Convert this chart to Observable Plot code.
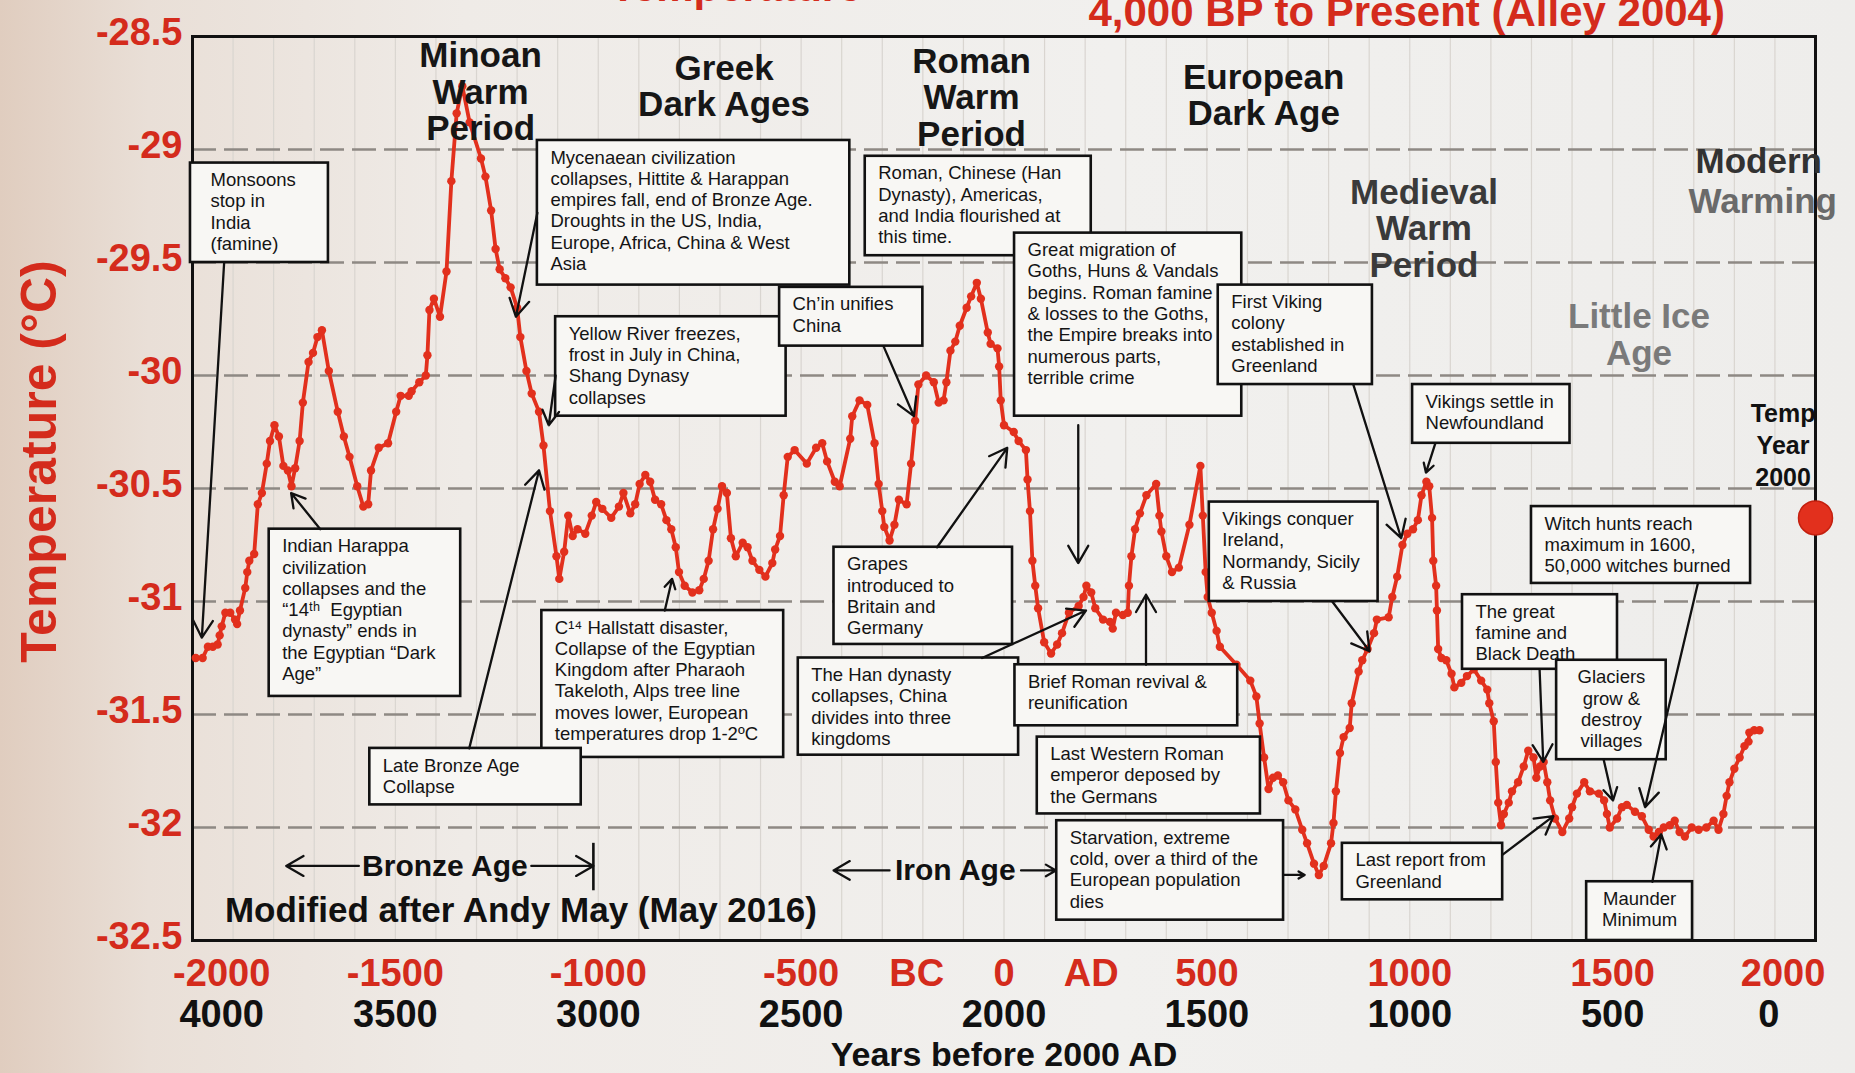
<!DOCTYPE html>
<html>
<head>
<meta charset="utf-8">
<script src="https://cdn.jsdelivr.net/npm/d3@7"></script>
<script src="https://cdn.jsdelivr.net/npm/@observablehq/plot@0.6"></script>
<style>
html,body{margin:0;padding:0;}
body{width:1855px;height:1073px;overflow:hidden;
background:linear-gradient(90deg,#e0cdbf 0%,#e9dfd7 8%,#efebe7 25%,#f1f0ee 60%,#eeedeb 100%);}
#chart svg{display:block;}
</style>
</head>
<body>
<div id="chart"></div>
<script>
// ---- data (GISP2 temperature, Alley 2004) ----
const years = [
-1992,-1975,-1962,-1950,-1938,-1933,-1928,-1919,-1907,-1895,-1890,-1883,-1870,-1865,-1860,-1848,-1839,-1829,-1817,-1809,-1798,-1787,-1776,-1765,-1756,-1747,-1736,-1728,-1714,-1703,-1692,-1681,-1664,-1642,-1627,-1613,-1594,-1579,-1567,-1560,-1541,-1518,-1498,-1487,-1467,
-1460,-1441,-1425,-1421,-1416,-1405,-1390,-1374,-1362,-1349,-1335,-1317,-1289,-1278,-1264,-1253,-1243,-1229,-1216,-1200,-1192,-1177,-1164,-1146,-1135,
-1119,-1103,-1096,-1084,-1074,-1063,-1051,-1032,-1016,-1005,-990,-968,-949,-938,-921,-909,-898,-884,-872,-860,-845,-832,-820,-809,-801,-787,-768,-751,-740,-728,-717,-706,-695,-683,-673,-661,-644,-632,-620,-603,-588,-571,-564,-552,-543,-533,
-516,-486,-463,-448,-436,-417,-405,-379,-374,-356,-337,-319,-309,-300,-295,-282,-270,-259,-240,-229,-219,-211,-192,-173,-161,-149,-142,-132,-120,-109,-92,-81,-67,-57,-40,-33,-16,-12,-8,0,24,36,54,58,64,70,
77,84,99,116,131,143,160,184,196,203,215,225,244,261,268,276,293,305,308,314,323,335,351,375,383,388,400,414,431,457,484,490,497,502,512,524,532,573,607,622,630,641,652,663,675,688,701,
718,735,747,764,776,788,806,812,818,828,837,852,857,874,883,896,912,919,948,957,969,982,994,1008,1020,1029,1041,1048,1055,1058,1065,1067,1070,1078,1090,1103,1110,1127,1141,1158,
1176,1191,1196,1207,1212,1218,1225,1232,1244,1252,1267,1281,1292,1305,1312,1321,1330,1339,1346,1358,1376,1393,1400,1412,1430,1444,1466,1479,1486,1493,1511,1523,1535,1555,1572,1589,1601,1614,1626,1641,1653,1665,1678,1695,1712,1731,1749,1761,1773,1781,1788,1800,1813,1825,1835,1837,1849,1862
];
const temps = [
-31.25,-31.25,-31.20,-31.20,-31.19,-31.15,-31.11,-31.05,-31.05,-31.08,-31.10,-31.04,-30.94,-30.87,-30.82,-30.79,-30.57,-30.52,-30.39,-30.29,-30.22,-30.27,-30.40,-30.42,-30.49,-30.41,-30.29,-30.12,-29.94,-29.90,-29.83,-29.80,-29.98,-30.16,-30.27,-30.36,-30.49,-30.58,-30.57,-30.42,-30.32,-30.30,-30.16,-30.09,-30.09,
-30.07,-30.03,-30.00,-29.91,-29.71,-29.66,-29.74,-29.54,-29.14,-28.84,-28.72,-28.88,-29.04,-29.12,-29.27,-29.44,-29.53,-29.57,-29.61,-29.70,-29.83,-29.98,-30.08,-30.16,-30.31,
-30.60,-30.80,-30.90,-30.78,-30.62,-30.71,-30.68,-30.70,-30.62,-30.56,-30.59,-30.63,-30.58,-30.52,-30.61,-30.57,-30.48,-30.44,-30.47,-30.55,-30.57,-30.64,-30.68,-30.76,-30.87,-30.93,-30.96,-30.95,-30.90,-30.82,-30.68,-30.59,-30.49,-30.52,-30.72,-30.80,-30.74,-30.76,-30.82,-30.86,-30.89,-30.83,-30.77,-30.71,-30.53,-30.36,
-30.33,-30.39,-30.32,-30.30,-30.38,-30.47,-30.49,-30.28,-30.18,-30.11,-30.13,-30.30,-30.48,-30.60,-30.67,-30.73,-30.66,-30.55,-30.57,-30.39,-30.20,-30.04,-30.00,-30.03,-30.12,-30.11,-30.03,-29.89,-29.85,-29.78,-29.70,-29.65,-29.59,-29.66,-29.81,-29.86,-29.88,-29.96,-30.11,-30.22,-30.25,-30.29,-30.33,-30.46,-30.60,-30.82,
-30.93,-31.03,-31.18,-31.23,-31.19,-31.14,-31.05,-31.02,-30.98,-30.93,-30.96,-31.03,-31.08,-31.09,-31.12,-31.05,-31.06,-31.05,-30.93,-30.80,-30.68,-30.61,-30.53,-30.48,-30.62,-30.69,-30.80,-30.87,-30.85,-30.66,-30.40,-30.62,-30.87,-30.98,-31.05,-31.13,-31.20,-31.28,-31.35,-31.42,-31.54,-31.69,-31.83,-31.78,-31.77,-31.80,-31.88,
-31.92,-32.01,-32.07,-32.16,-32.21,-32.17,-32.07,-31.98,-31.84,-31.67,-31.60,-31.56,-31.45,-31.31,-31.26,-31.21,-31.14,-31.08,-31.07,-30.98,-30.89,-30.75,-30.70,-30.68,-30.64,-30.53,-30.47,-30.49,-30.63,-30.82,-30.93,-31.04,-31.21,-31.25,-31.26,-31.32,-31.38,-31.36,-31.33,-31.30,
-31.35,-31.39,-31.45,-31.53,-31.71,-31.89,-31.99,-31.94,-31.89,-31.84,-31.80,-31.73,-31.66,-31.69,-31.78,-31.73,-31.71,-31.80,-31.88,-31.96,-32.02,-31.96,-31.91,-31.85,-31.80,-31.84,-31.85,-31.88,-31.94,-32.00,-31.96,-31.91,-31.90,-31.93,-31.95,-32.01,-32.04,-32.02,-32.00,-31.99,-31.97,-32.02,-32.04,-32.00,-32.01,-32.00,-31.97,-32.01,-31.94,-31.86,-31.80,-31.74,-31.69,-31.64,-31.62,-31.58,-31.57,-31.57
];
const temp2000 = -30.63;                // "Temp Year 2000" marker
const yTicks = [-28.5, -29, -29.5, -30, -30.5, -31, -31.5, -32, -32.5];
const xTicks = [-2000, -1500, -1000, -500, 0, 500, 1000, 1500, 2000];
const bpTicks = [4000, 3500, 3000, 2500, 2000, 1500, 1000, 500, 0];
const eraTicks = ["BC", "AD"];

// ---- layout of labels (in data units) ----
const eraPos = {BC: -215, AD: 215};
const redNudge = {"-2000": 72, "2000": -80};   // end labels pulled inwards as in the print
const bpNudge = {"4000": 72, "0": -115};

const periodLabels = [
  {text: "Minoan\nWarm\nPeriod", year: -1290, temp: -28.745, color: "#161616"},
  {text: "Greek\nDark Ages", year: -690, temp: -28.72, color: "#161616"},
  {text: "Roman\nWarm\nPeriod", year: -80, temp: -28.77, color: "#161616"},
  {text: "European\nDark Age", year: 640, temp: -28.76, color: "#161616"},
  {text: "Medieval\nWarm\nPeriod", year: 1035, temp: -29.35, color: "#3a3a3a"},
  {text: "Little Ice\nAge", year: 1565, temp: -29.82, color: "#7a7a7a"},
  {text: "Modern", year: 1860, temp: -29.05, color: "#323232"},
  {text: "Warming", year: 1870, temp: -29.23, color: "#6a6a6a"}
];

const notes = [
  {text: "Monsoons\nstop in\nIndia\n(famine)", x1: -2005, x2: -1665, y1: -29.06, y2: -29.50, pad: 20},
  {text: "Indian Harappa\ncivilization\ncollapses and the\n\u201c14\u1d57\u02b0  Egyptian\ndynasty\u201d ends in\nthe Egyptian \u201cDark\nAge\u201d", x1: -1811, x2: -1339, y1: -30.68, y2: -31.42},
  {text: "Mycenaean civilization\ncollapses, Hittite & Harappan\nempires fall, end of Bronze Age.\nDroughts in the US, India,\nEurope, Africa, China & West\nAsia", x1: -1150, x2: -380, y1: -28.96, y2: -29.60},
  {text: "Yellow River freezes,\nfrost in July in China,\nShang Dynasy\ncollapses", x1: -1105, x2: -537, y1: -29.74, y2: -30.18},
  {text: "Ch\u2019in unifies\nChina", x1: -553, x2: -200, y1: -29.61, y2: -29.87},
  {text: "Roman, Chinese (Han\nDynasty), Americas,\nand India flourished at\nthis time.", x1: -342, x2: 215, y1: -29.03, y2: -29.47},
  {text: "Great migration of\nGoths, Huns & Vandals\nbegins. Roman famine\n& losses to the Goths,\nthe Empire breaks into\nnumerous parts,\nterrible crime", x1: 26, x2: 586, y1: -29.37, y2: -30.18},
  {text: "First Viking\ncolony\nestablished in\nGreenland", x1: 528, x2: 908, y1: -29.60, y2: -30.04},
  {text: "Vikings settle in\nNewfoundland", x1: 1007, x2: 1395, y1: -30.04, y2: -30.30},
  {text: "C\u00b9\u2074 Hallstatt disaster,\nCollapse of the Egyptian\nKingdom after Pharaoh\nTakeloth, Alps tree line\nmoves lower, European\ntemperatures drop 1-2\u00baC", x1: -1139, x2: -543, y1: -31.04, y2: -31.69},
  {text: "Late Bronze Age\nCollapse", x1: -1563, x2: -1042, y1: -31.65, y2: -31.90},
  {text: "Grapes\nintroduced to\nBritain and\nGermany", x1: -419, x2: 21, y1: -30.76, y2: -31.19},
  {text: "The Han dynasty\ncollapses, China\ndivides into three\nkingdoms", x1: -507, x2: 36, y1: -31.25, y2: -31.68},
  {text: "Brief Roman revival &\nreunification", x1: 27, x2: 576, y1: -31.28, y2: -31.55},
  {text: "Last Western Roman\nemperor deposed by\nthe Germans", x1: 82, x2: 632, y1: -31.60, y2: -31.94},
  {text: "Starvation, extreme\ncold, over a third of the\nEuropean population\ndies", x1: 130, x2: 689, y1: -31.97, y2: -32.41},
  {text: "Vikings conquer\nIreland,\nNormandy, Sicily\n& Russia", x1: 506, x2: 922, y1: -30.56, y2: -31.00},
  {text: "Last report from\nGreenland", x1: 834, x2: 1229, y1: -32.07, y2: -32.32},
  {text: "Witch hunts reach\nmaximum in 1600,\n50,000 witches burned", x1: 1300, x2: 1840, y1: -30.58, y2: -30.92},
  {text: "The great\nfamine and\nBlack Death", x1: 1130, x2: 1512, y1: -30.97, y2: -31.30},
  {text: "Glaciers\ngrow &\ndestroy\nvillages", x1: 1362, x2: 1632, y1: -31.26, y2: -31.70, center: true},
  {text: "Maunder\nMinimum", x1: 1436, x2: 1697, y1: -32.24, y2: -32.50, center: true}
];

const pointers = [
  [-1922, -29.50, -1977, -31.16],
  [-1685, -30.68, -1757, -30.52],
  [-1150, -29.28, -1203, -29.74],
  [-1105, -30.00, -1122, -30.22],
  [-297, -29.87, -222, -30.18],
  [183, -30.22, 183, -30.83],
  [861, -30.04, 979, -30.72],
  [1063, -30.30, 1040, -30.43],
  [-1318, -31.65, -1146, -30.42],
  [-836, -31.04, -818, -30.90],
  [-165, -30.76, 8, -30.32],
  [-54, -31.25, 202, -31.04],
  [350, -31.28, 350, -30.97],
  [689, -32.21, 741, -32.21],
  [809, -31.00, 901, -31.22],
  [1229, -32.12, 1354, -31.95],
  [1710, -30.92, 1580, -31.91],
  [1320, -31.30, 1329, -31.71],
  [1478, -31.70, 1501, -31.88],
  [1598, -32.24, 1620, -32.03],
  // age spans
  [-1590, -32.17, -1769, -32.17],
  [-1165, -32.17, -1012, -32.17],
  [-282, -32.19, -420, -32.19],
  [42, -32.19, 128, -32.19]
].map(([x1, y1, x2, y2]) => ({x1, y1, x2, y2}));

// ---- chart ----
const RED = "#e2301d";
const LRED = "#d42b1c";
const FONT = '"Liberation Sans", Arial, Helvetica, sans-serif';
const series = years.map((year, i) => ({year, temp: temps[i]}));

const noteMarks = notes.flatMap(n => [
  Plot.rect([n], {x1: d => d.x1, x2: d => d.x2, y1: d => d.y1, y2: d => d.y2,
    fill: "#f8f7f4", stroke: "#111", strokeWidth: 2.6}),
  Plot.text([n], {x: d => d.center ? (d.x1 + d.x2) / 2 : d.x1, y: d => d.y1, text: d => d.text,
    textAnchor: n.center ? "middle" : "start", lineAnchor: "top",
    dx: n.center ? 0 : (n.pad ?? 13), dy: 8, fontSize: 18.5, lineHeight: 1.15, fill: "#141414"})
]);

const chart = Plot.plot({
  width: 1855, height: 1073,
  marginLeft: 192, marginRight: 40, marginTop: 36, marginBottom: 133,
  x: {domain: [-2000, 2000], axis: null},
  y: {domain: [-32.5, -28.5], axis: null},
  style: {background: "transparent", fontFamily: FONT, overflow: "hidden"},
  marks: [
    Plot.ruleX(d3.range(-1900, 2000, 100), {stroke: "#d9d5d0", strokeWidth: 1.2}),
    Plot.ruleY(yTicks.slice(1, -1), {stroke: "#8e8984", strokeWidth: 2.4, strokeDasharray: "24,8"}),
    Plot.frame({stroke: "#111", strokeWidth: 3}),
    Plot.line(series, {x: "year", y: "temp", stroke: RED, strokeWidth: 3.8}),
    Plot.dot(series, {x: "year", y: "temp", r: 4.2, fill: RED}),
    Plot.text(periodLabels, {x: "year", y: "temp", text: "text", fill: "color",
      fontSize: 35, fontWeight: "bold", lineHeight: 1.05, lineAnchor: "middle"}),
    Plot.text(["Temp\nYear\n2000"], {x: () => 1920, y: () => -30.30, fontSize: 25, fontWeight: "bold",
      lineHeight: 1.28, lineAnchor: "middle", fill: "#111"}),
    ...noteMarks,
    Plot.arrow(pointers, {x1: "x1", y1: "y1", x2: "x2", y2: "y2", stroke: "#111",
      strokeWidth: 2.3, headLength: 13}),
    Plot.ruleX([-1012], {y1: -32.07, y2: -32.28, stroke: "#111", strokeWidth: 2.6}),
    Plot.text(["Bronze Age"], {x: () => -1378, y: () => -32.17, fontSize: 30, fontWeight: "bold", fill: "#111"}),
    Plot.text(["Iron Age"], {x: () => -120, y: () => -32.19, fontSize: 30, fontWeight: "bold", fill: "#111"}),
    Plot.text(["Modified after Andy May (May 2016)"], {x: () => -1920, y: () => -32.37,
      textAnchor: "start", fontSize: 35, fontWeight: "bold", fill: "#111"}),
    Plot.dot([temp2000], {x: () => 2000, y: d => d, r: 17, fill: RED, stroke: "#c4200f", strokeWidth: 1.5}),
    // axes drawn as text through the scales
    Plot.text(yTicks, {y: d => d, text: d => String(d), frameAnchor: "left", textAnchor: "end",
      lineAnchor: "middle", dx: -10, dy: -4, fill: LRED, fontSize: 38, fontWeight: "bold"}),
    Plot.text(xTicks, {x: d => d + (redNudge[d] ?? 0), text: d => String(d), frameAnchor: "bottom",
      lineAnchor: "middle", dy: 33, fill: LRED, fontSize: 38, fontWeight: "bold"}),
    Plot.text(eraTicks, {x: d => eraPos[d], text: d => d, frameAnchor: "bottom",
      lineAnchor: "middle", dy: 33, fill: LRED, fontSize: 38, fontWeight: "bold"}),
    Plot.text(bpTicks, {x: d => 2000 - d + (bpNudge[d] ?? 0), text: d => String(d), frameAnchor: "bottom",
      lineAnchor: "middle", dy: 74, fill: "#111", fontSize: 38, fontWeight: "bold"}),
    Plot.text(["Years before 2000 AD"], {x: () => 0, frameAnchor: "bottom", lineAnchor: "middle", dy: 115,
      fill: "#111", fontSize: 34, fontWeight: "bold"}),
    Plot.text(["Temperature (\u00b0C)"], {frameAnchor: "left", textAnchor: "middle", lineAnchor: "middle",
      dx: -153, dy: -27, rotate: -90, fill: LRED, fontSize: 50, fontWeight: "bold"}),
    Plot.text(["4,000 BP to Present (Alley 2004)"], {x: () => 208, frameAnchor: "top", lineAnchor: "middle",
      dy: -24, textAnchor: "start", fill: LRED, fontSize: 42, fontWeight: "bold"}),
    Plot.text(["Temperature"], {x: () => -351, frameAnchor: "top", lineAnchor: "middle", dy: -49,
      textAnchor: "end", fill: LRED, fontSize: 42, fontWeight: "bold"})
  ]
});
document.getElementById("chart").appendChild(chart);
</script>
</body>
</html>
